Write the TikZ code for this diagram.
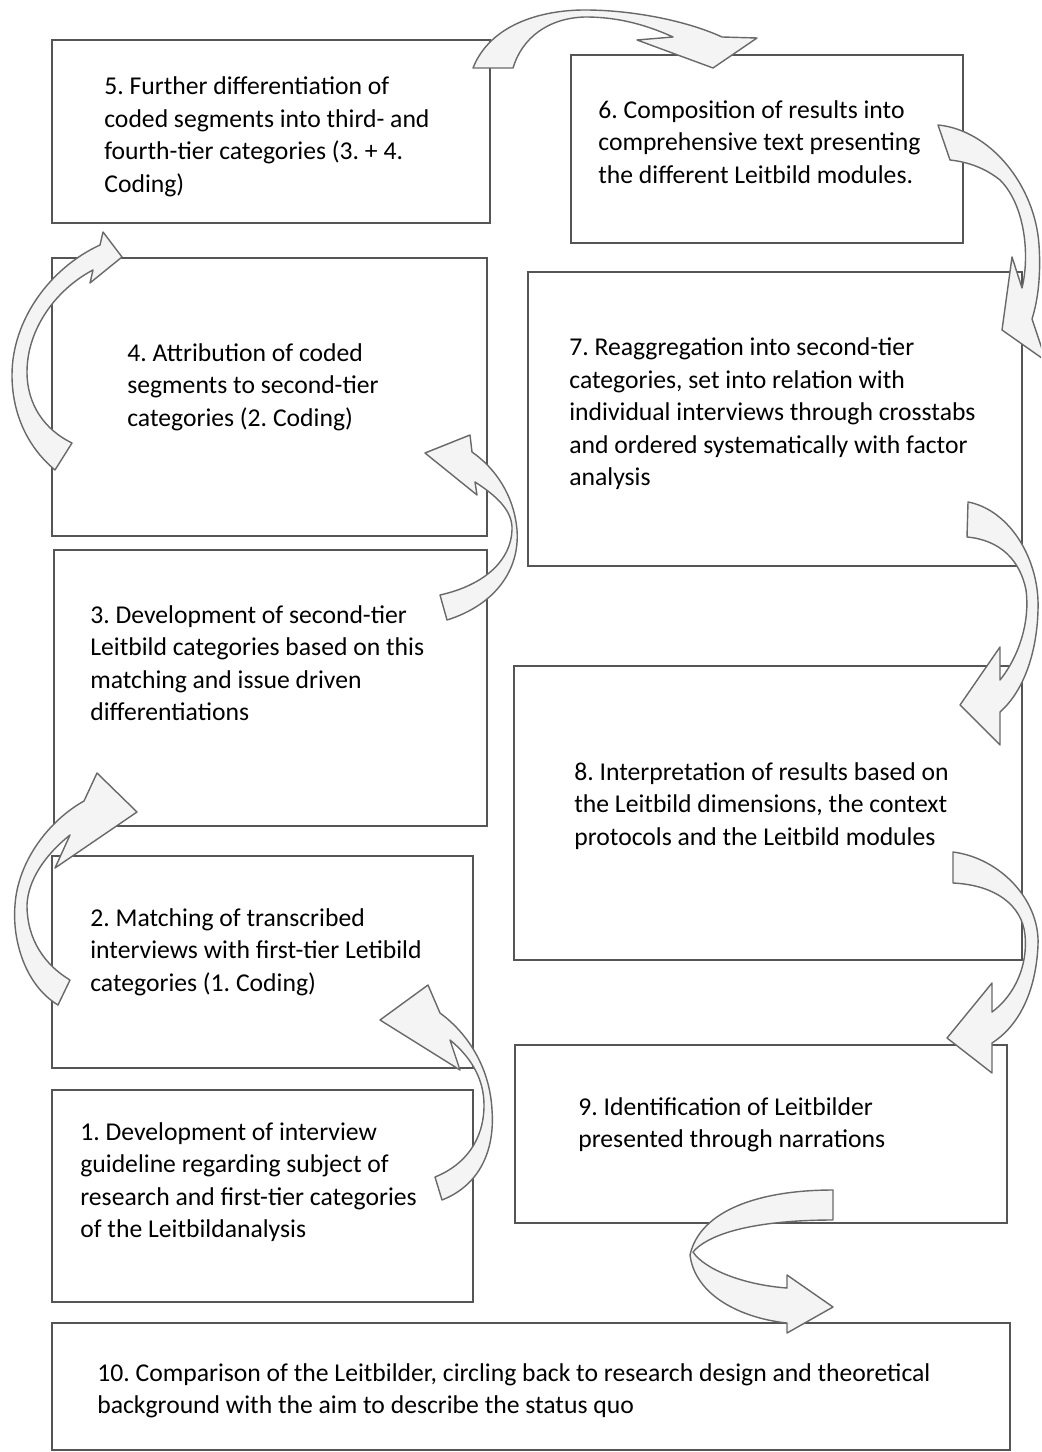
\documentclass[tikz,border=0pt]{standalone}
\usepackage{fontspec}
\setmainfont{Carlito}
\usepackage{tikz}
\frenchspacing
\definecolor{boxLine}{RGB}{85,85,85}
\definecolor{arrowLine}{RGB}{105,105,105}
\definecolor{arrowFill}{RGB}{244,244,244}

\begin{document}
\begin{tikzpicture}[x=0.02cm,y=-0.02cm,
    box/.style={draw=boxLine, line width=1.1pt},
    steptext/.style={anchor=west, align=left, inner sep=0pt, font=\fontsize{14.6}{18.5}\selectfont},
    turn/.style={draw=arrowLine, fill=arrowFill, line width=0.8pt, line join=round}]
    \useasboundingbox (0,0) rectangle (1041,1452);
    \clip (0,0) rectangle (1041,1452);

    % Step boxes
    \draw[box] (52,40) rectangle (490,223);
    \draw[box] (571,55) rectangle (963,243);
    \draw[box] (52,258) rectangle (487,536);
    \draw[box] (528,272) rectangle (1022,566);
    \draw[box] (54,550) rectangle (487,826);
    \draw[box] (514,666) rectangle (1022,960);
    \draw[box] (52,856) rectangle (473,1068);
    \draw[box] (52,1090) rectangle (473,1302);
    \draw[box] (515,1045) rectangle (1007,1223);
    \draw[box] (52,1323) rectangle (1010,1450);

    % Step texts
    \node[steptext] (s5) at (104,137) {5. Further differentiation of\\coded segments into third- and\\fourth-tier categories (3. + 4.\\Coding)};
    \node[steptext] (s6) at (598,142) {6. Composition of results into\\comprehensive text presenting\\the different Leitbild modules.};
    \node[steptext] (s4) at (127,387) {4. Attribution of coded\\segments to second-tier\\categories (2. Coding)};
    \node[steptext] (s7) at (569,414) {7. Reaggregation into second-tier\\categories, set into relation with\\individual interviews through crosstabs\\and ordered systematically with factor\\analysis};
    \node[steptext] (s3) at (90,663) {3. Development of second-tier\\Leitbild categories based on this\\matching and issue driven\\differentiations};
    \node[steptext] (s8) at (574,806) {8. Interpretation of results based on\\the Leitbild dimensions, the context\\protocols and the Leitbild modules};
    \node[steptext] (s2) at (90,952) {2. Matching of transcribed\\interviews with first-tier Letibild\\categories (1. Coding)};
    \node[steptext] (s1) at (80,1182) {1. Development of interview\\guideline regarding subject of\\research and first-tier categories\\of the Leitbildanalysis};
    \node[steptext] (s9) at (578,1125) {9. Identification of Leitbilder\\presented through narrations};
    \node[steptext] (s10) at (97,1391) {10. Comparison of the Leitbilder, circling back to research design and theoretical\\background with the aim to describe the status quo};

    % Curved block arrows
    % 5 -> 6
    \draw[turn] (473,68) .. controls (490,25) and (540,10) .. (585,10) .. controls (630,10) and (685,20) .. (722,37) -- (757,38) -- (713,68) -- (637,40) -- (673,37) .. controls (640,22) and (612,17) .. (585,17) .. controls (548,18) and (522,38) .. (513,68) -- cycle;
    % 4 -> 5
    \draw[turn] (55,470) .. controls (25,445) and (12,410) .. (12,375) .. controls (12,320) and (50,268) .. (100,245) -- (103,232) -- (122,257) -- (90,283) -- (93,270) .. controls (55,290) and (27,330) .. (27,372) .. controls (27,405) and (45,430) .. (72,443) -- cycle;
    % 3 -> 4
    \draw[turn] (447,620) .. controls (495,605) and (520,570) .. (517,530) .. controls (514,495) and (495,468) .. (472,452) -- (470,435) -- (425,453) -- (477,495) -- (475,482) .. controls (495,495) and (513,510) .. (512,530) .. controls (511,560) and (485,585) .. (440,595) -- cycle;
    % 2 -> 3
    \draw[turn] (58,1005) .. controls (25,985) and (12,940) .. (15,905) .. controls (18,860) and (50,820) .. (84,801) -- (97,773) -- (137,812) -- (55,868) -- (70,835) .. controls (45,855) and (28,880) .. (27,905) .. controls (27,940) and (45,965) .. (70,980) -- cycle;
    % 1 -> 2
    \draw[turn] (442,1200) .. controls (480,1185) and (495,1150) .. (492,1110) .. controls (490,1070) and (470,1035) .. (440,1013) -- (428,985) -- (380,1020) -- (460,1070) -- (450,1040) .. controls (472,1058) and (484,1080) .. (484,1105) .. controls (484,1140) and (465,1165) .. (435,1177) -- cycle;
    % 6 -> 7
    \draw[turn] (938,125) .. controls (990,130) and (1035,185) .. (1039,245) .. controls (1041,275) and (1038,300) .. (1032,319) -- (1046,361) -- (1002,330) -- (1012,257) -- (1022,288) .. controls (1030,255) and (1025,205) .. (1000,180) .. controls (985,168) and (968,162) .. (950,160) -- cycle;
    % 7 -> 8
    \draw[turn] (968,502) .. controls (1010,510) and (1040,560) .. (1038,610) .. controls (1037,650) and (1025,690) .. (1000,712) -- (1000,745) -- (960,705) -- (1000,647) -- (1000,680) .. controls (1020,655) and (1030,620) .. (1026,590) .. controls (1020,560) and (1000,540) .. (967,537) -- cycle;
    % 8 -> 9
    \draw[turn] (953,852) .. controls (1000,858) and (1040,900) .. (1038,945) .. controls (1036,990) and (1020,1025) .. (992,1043) -- (992,1073) -- (947,1038) -- (992,983) -- (992,1012) .. controls (1015,995) and (1028,965) .. (1025,935) .. controls (1022,905) and (995,885) .. (953,883) -- cycle;
    % 9 -> 10
    \draw[turn] (833,1190) .. controls (760,1190) and (700,1210) .. (690,1255) .. controls (695,1295) and (740,1318) .. (787,1323) -- (787,1333) -- (833,1307) -- (787,1275) -- (787,1288) .. controls (745,1285) and (705,1270) .. (693,1252) .. controls (710,1232) and (760,1220) .. (833,1220) -- cycle;
\end{tikzpicture}
\end{document}
